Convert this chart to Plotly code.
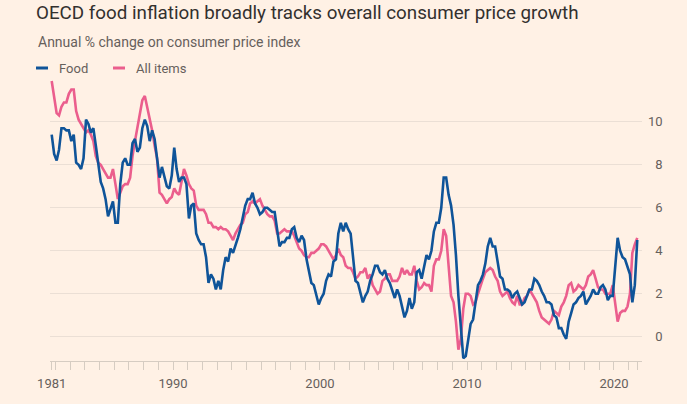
import pandas as pd
import plotly.graph_objects as go

# Bi-monthly readings (Oct 1981 .. Aug 2021), annual % change
food = [
    9.4, 8.5,                                  # 1981 Oct, Dec
    8.2, 8.7, 9.7, 9.7, 9.6, 9.6,              # 1982
    9.1, 9.4, 8.1, 8.0, 7.8, 8.3,              # 1983
    10.1, 9.9, 9.5, 9.7, 8.9, 8.1,             # 1984
    7.2, 6.9, 6.4, 5.6, 6.0, 6.3,              # 1985
    5.3, 5.3, 7.1, 8.1, 8.3, 8.0,              # 1986
    8.0, 9.0, 9.2, 8.6, 8.8, 9.7,              # 1987
    10.1, 9.8, 9.1, 9.6, 9.2, 8.4,             # 1988
    7.4, 7.9, 7.5, 7.0, 6.9, 7.5,              # 1989
    8.8, 7.8, 7.2, 7.4, 7.4, 7.1,              # 1990
    5.5, 6.1, 6.2, 4.8, 4.5, 4.3,              # 1991
    4.3, 3.7, 2.5, 2.9, 2.7, 2.2,              # 1992
    2.6, 2.2, 3.1, 3.7, 3.5, 4.1,              # 1993
    3.9, 4.2, 4.6, 5.0, 5.5, 6.1,              # 1994
    6.4, 6.4, 6.7, 6.2, 6.0, 5.7,              # 1995
    5.8, 6.0, 6.0, 5.9, 5.8, 5.8,              # 1996
    5.0, 4.2, 4.4, 4.4, 4.6, 4.6,              # 1997
    5.0, 5.1, 4.6, 4.4, 4.7, 4.5,              # 1998
    3.6, 3.1, 2.5, 2.4, 1.9, 1.5,              # 1999
    1.8, 2.0, 2.6, 2.9, 2.8, 3.5,              # 2000
    3.6, 4.8, 5.3, 4.9, 5.3, 5.0,              # 2001
    4.8, 3.8, 2.6, 2.5, 2.0, 1.6,              # 2002
    1.9, 2.1, 2.6, 2.9, 3.3, 3.3,              # 2003
    3.0, 2.9, 3.1, 2.7, 2.5, 2.2,              # 2004
    1.8, 2.2, 1.9, 1.4, 0.9, 1.2,              # 2005
    1.8, 1.3, 1.6, 3.0, 3.1, 2.7,              # 2006
    3.2, 3.8, 3.6, 4.0, 4.9, 5.3,              # 2007
    5.3, 6.0, 7.4, 7.4, 6.6, 6.1,              # 2008
    5.2, 3.8, 1.9, 0.2, -1.0, -0.9,            # 2009
    -0.1, 0.6, 0.8, 1.6, 2.4, 2.6,             # 2010
    2.9, 3.4, 4.2, 4.6, 4.2, 4.2,              # 2011
    3.5, 2.8, 2.7, 2.2, 2.2, 2.1,              # 2012
    1.8, 2.0, 2.1, 1.8, 1.5, 1.6,              # 2013
    1.9, 2.2, 2.2, 2.7, 2.6, 2.4,              # 2014
    2.1, 1.9, 1.6, 1.6, 1.5, 1.0,              # 2015
    0.9, 0.4, 0.4, 0.1, -0.1, 0.7,             # 2016
    1.1, 1.5, 1.6, 1.8, 1.9, 2.1,              # 2017
    1.5, 1.7, 1.9, 2.2, 2.0, 2.0,              # 2018
    2.3, 2.4, 2.2, 1.7, 1.9, 1.9,              # 2019
    3.3, 4.6, 4.0, 3.7, 3.6, 3.3,              # 2020
    2.9, 1.6, 2.4, 4.5,                        # 2021 Feb..Aug
]

all_items = [
    11.9, 11.1,                                # 1981 Oct, Dec
    10.4, 10.3, 10.7, 10.9, 10.9, 11.3,        # 1982
    11.5, 11.5, 10.5, 10.1, 9.9, 9.7,          # 1983
    9.5, 9.6, 9.4, 9.1, 8.4, 8.1,              # 1984
    8.0, 7.8, 7.6, 7.4, 7.4, 7.8,              # 1985
    7.1, 6.4, 6.7, 7.0, 7.1, 7.1,              # 1986
    7.4, 8.4, 9.1, 9.8, 10.4, 11.0,            # 1987
    11.2, 10.7, 10.2, 9.6, 8.9, 8.3,           # 1988
    6.7, 6.6, 6.4, 6.2, 6.4, 6.5,              # 1989
    6.9, 6.7, 6.6, 7.2, 7.8, 7.5,              # 1990
    7.1, 6.9, 6.8, 6.1, 5.9, 5.9,              # 1991
    5.9, 5.7, 5.3, 5.3, 5.1, 5.1,              # 1992
    5.0, 5.1, 5.0, 5.0, 4.9, 4.7,              # 1993
    4.5, 4.8, 5.0, 5.2, 5.3, 5.7,              # 1994
    5.8, 6.2, 6.3, 6.2, 6.3, 6.4,              # 1995
    6.1, 5.9, 5.7, 5.6, 5.6, 5.4,              # 1996
    4.8, 4.8, 4.9, 5.0, 4.9, 4.9,              # 1997
    4.9, 4.7, 4.4, 4.1, 4.0, 3.8,              # 1998
    3.7, 3.7, 3.9, 3.9, 4.0, 4.1,              # 1999
    4.3, 4.3, 4.2, 4.0, 3.8, 3.6,              # 2000
    3.8, 4.1, 3.8, 3.7, 3.3, 3.2,              # 2001
    3.2, 3.0, 2.7, 2.8, 3.0, 3.0,              # 2002
    3.2, 2.7, 2.9, 2.4, 2.2, 2.0,              # 2003
    2.1, 2.6, 2.7, 2.9, 2.9, 2.6,              # 2004
    2.6, 2.6, 2.8, 3.2, 2.9, 3.1,              # 2005
    2.9, 2.9, 3.3, 2.6, 2.2, 2.3,              # 2006
    2.5, 2.4, 2.4, 2.1, 3.3, 3.6,              # 2007
    3.6, 4.0, 5.0, 4.7, 3.3, 1.9,              # 2008
    1.6, 0.7, -0.6, -0.1, 1.3, 2.0,            # 2009
    2.0, 1.9, 1.5, 1.6, 2.0, 2.4,              # 2010
    2.7, 3.0, 3.1, 3.2, 3.1, 2.8,              # 2011
    2.6, 2.1, 1.9, 2.0, 2.1, 1.8,              # 2012
    1.6, 1.5, 1.9, 1.5, 1.5, 1.8,              # 2013
    1.9, 2.2, 2.0, 1.8, 1.6, 1.2,              # 2014
    0.9, 0.8, 0.7, 0.6, 0.8, 1.2,              # 2015
    1.1, 1.0, 1.4, 1.6, 1.9, 2.4,              # 2016
    2.5, 2.1, 2.2, 2.4, 2.3, 2.2,              # 2017
    2.4, 2.8, 2.9, 3.1, 2.7, 2.3,              # 2018
    2.2, 2.2, 2.0, 2.0, 2.0, 2.4,              # 2019
    1.5, 0.7, 1.1, 1.2, 1.2, 1.4,              # 2020
    2.0, 3.9, 4.3, 4.6,                        # 2021 Feb..Aug
]

dates = pd.date_range(start="1981-10-01", periods=len(food), freq="2MS")

x_tickvals = ["1981-10-01"] + [f"{y}-01-01" for y in range(1982, 2022)] + ["2021-08-01"]
x_labelled = {"1981-10-01": "1981", "1990-01-01": "1990", "2000-01-01": "2000",
              "2010-01-01": "2010", "2020-01-01": "2020"}
x_ticktext = [x_labelled.get(v, "") for v in x_tickvals]

y_tickvals = [0, 2, 4, 6, 8, 10]
y_ticktext = ["\u2007" + str(v) if v < 10 else str(v) for v in y_tickvals]

BLUE = "#0f5499"
PINK = "#eb5e8d"
BG = "#fff1e5"
GREY = "#66605c"
FONT = "Roboto, 'Open Sans', sans-serif"

fig = go.Figure()
fig.add_trace(go.Scatter(x=dates, y=all_items, name="All items", mode="lines",
                         line=dict(color=PINK, width=2.6), hoverinfo="x+y"))
fig.add_trace(go.Scatter(x=dates, y=food, name="Food", mode="lines",
                         line=dict(color=BLUE, width=2.6), hoverinfo="x+y"))

W, H = 687, 404
ML, MR, MT, MB = 50, 45, 79, 43
PW, PH = W - ML - MR, H - MT - MB


def px(xp):
    return (xp - ML) / PW


def py(yp):
    return (H - MB - yp) / PH


fig.update_layout(
    width=W, height=H,
    margin=dict(l=ML, r=MR, t=MT, b=MB),
    paper_bgcolor=BG, plot_bgcolor=BG,
    showlegend=False,
    font=dict(family=FONT, color=GREY, size=13),
    title=dict(text="OECD food inflation broadly tracks overall consumer price growth",
               x=36 / W, xref="container", xanchor="left",
               y=1 - 6 / H, yref="container", yanchor="top",
               font=dict(family=FONT, size=18.8, color="#33302e")),
    xaxis=dict(type="date", range=["1981-08-20", "2021-11-27"],
               tickmode="array", tickvals=x_tickvals, ticktext=x_ticktext,
               showgrid=False, zeroline=False,
               showline=True, linecolor="#d6ccc2", linewidth=1,
               ticks="outside", ticklen=8, tickcolor="#d6ccc2", tickwidth=1,
               ticklabelstandoff=2,
               tickfont=dict(size=13, color=GREY)),
    yaxis=dict(range=[-1.13, 11.99], side="right",
               tickmode="array", tickvals=y_tickvals, ticktext=y_ticktext,
               showgrid=True, gridcolor="#ebdfd5", gridwidth=1,
               zeroline=False, showline=False, ticks="",
               ticklabelstandoff=5,
               tickfont=dict(size=13, color=GREY)),
    annotations=[
        dict(text="Annual % change on consumer price index", xref="paper", yref="paper",
             x=px(36), y=py(42), xanchor="left", yanchor="middle", showarrow=False,
             font=dict(size=14, color=GREY)),
        dict(text="Food", xref="paper", yref="paper",
             x=px(57), y=py(68), xanchor="left", yanchor="middle", showarrow=False,
             font=dict(size=13, color=GREY)),
        dict(text="All items", xref="paper", yref="paper",
             x=px(134), y=py(68), xanchor="left", yanchor="middle", showarrow=False,
             font=dict(size=13, color=GREY)),
    ],
    shapes=[
        dict(type="line", xref="paper", yref="paper", x0=px(36), x1=px(48),
             y0=py(68), y1=py(68), line=dict(color=BLUE, width=3)),
        dict(type="line", xref="paper", yref="paper", x0=px(113), x1=px(125),
             y0=py(68), y1=py(68), line=dict(color=PINK, width=3)),
    ],
)

fig.write_html("out.html",
               config={"displayModeBar": False},
               post_script="document.body.style.margin='0';document.body.style.background='#fff1e5';")
